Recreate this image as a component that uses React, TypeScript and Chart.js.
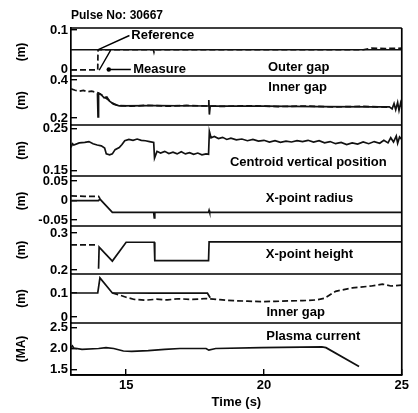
import React, { useEffect, useRef } from 'react';
import { Chart, registerables } from 'chart.js';

Chart.register(...registerables);

const FONT = "'Liberation Sans', Arial, Helvetica, sans-serif";

// ---------- x axis ----------
const timeMin = 13;
const timeMax = 25;
const timeTicks = [15, 20, 25];

// ---------- data: [time (s), value] ----------
// Panel 1 - Outer gap (m)
const outerGapRef = [[13, 0.05], [16.0, 0.05], [20.0, 0.05], [25, 0.05]];
const outerGapMeas = [[13, -0.001], [13.97, -0.001], [13.98, 0.05], [15.99, 0.05], [16.01, 0.044], [16.03, 0.05], [23.6, 0.05], [23.9, 0.054], [24.4, 0.053], [25, 0.054]];

// Panel 2 - Inner gap (m)
const innerGapRef = [[13.96, 0.33], [13.98, 0.205], [14.0, 0.33], [14.1, 0.322], [14.2, 0.306], [14.3, 0.31], [14.4, 0.288], [14.55, 0.272], [14.75, 0.264], [16, 0.265], [17.98, 0.263], [18.0, 0.295], [18.02, 0.218], [18.05, 0.263], [20, 0.262], [22, 0.26], [24, 0.258], [24.55, 0.259], [24.65, 0.248], [24.72, 0.276], [24.78, 0.244], [24.85, 0.282], [24.9, 0.24], [24.96, 0.28], [25, 0.258]];
const innerGapMeas = [[13, 0.353], [13.15, 0.346], [13.3, 0.341], [13.45, 0.345], [13.6, 0.338], [13.75, 0.341], [13.9, 0.336], [14.05, 0.328], [14.2, 0.312], [14.35, 0.296], [14.5, 0.278], [14.7, 0.266], [15.2, 0.262], [15.8, 0.267], [16.5, 0.262], [17.2, 0.266], [18.5, 0.261], [19.5, 0.264], [20.5, 0.26], [21.5, 0.263], [22.5, 0.258], [23.5, 0.261], [24.5, 0.257]];

// Panel 3 - Centroid vertical position (m)
const centroid = [[13.0, 0.205], [13.05, 0.214], [13.1, 0.211], [13.3, 0.216], [13.5, 0.217], [13.65, 0.219], [13.8, 0.214], [13.95, 0.211], [14.1, 0.209], [14.22, 0.204], [14.28, 0.19], [14.4, 0.188], [14.5, 0.19], [14.6, 0.2], [14.75, 0.205], [14.85, 0.212], [14.95, 0.221], [15.1, 0.224], [15.25, 0.222], [15.4, 0.225], [15.55, 0.222], [15.7, 0.221], [15.85, 0.219], [16.0, 0.217], [16.03, 0.18], [16.12, 0.196], [16.25, 0.192], [16.4, 0.196], [16.55, 0.191], [16.7, 0.194], [16.85, 0.19], [17.0, 0.195], [17.15, 0.19], [17.3, 0.193], [17.45, 0.189], [17.6, 0.192], [17.75, 0.188], [17.9, 0.19], [17.99, 0.189], [18.02, 0.243], [18.08, 0.228], [18.2, 0.231], [18.35, 0.226], [18.5, 0.229], [18.65, 0.224], [18.8, 0.227], [19.0, 0.223], [19.2, 0.225], [19.4, 0.221], [19.6, 0.224], [19.8, 0.22], [20.0, 0.222], [20.2, 0.218], [20.4, 0.221], [20.6, 0.217], [20.8, 0.22], [21.0, 0.218], [21.2, 0.221], [21.4, 0.219], [21.6, 0.222], [21.8, 0.218], [22.0, 0.221], [22.2, 0.216], [22.4, 0.219], [22.6, 0.214], [22.8, 0.217], [23.0, 0.212], [23.2, 0.216], [23.4, 0.213], [23.6, 0.218], [23.8, 0.214], [24.0, 0.219], [24.2, 0.215], [24.35, 0.222], [24.5, 0.216], [24.6, 0.228], [24.7, 0.218], [24.8, 0.232], [24.85, 0.215], [24.92, 0.23], [25.0, 0.224]];

// Panel 4 - X-point radius (m)
const xRadiusRef = [[13, 0], [14.0, 0], [14.05, 0.004], [14.5, -0.03], [16.0, -0.03], [16.02, -0.044], [16.04, -0.03], [17.99, -0.03], [18.01, -0.025], [18.03, -0.03], [25, -0.03]];
const xRadiusMeas = [[13, 0.012], [13.5, 0.011], [14.0, 0.011], [14.05, 0.005]];

// Panel 5 - X-point height (m)
const xHeightRef = [[14.0, 0.203], [14.02, 0.262], [14.5, 0.224], [15.0, 0.275], [16.02, 0.275], [16.04, 0.225], [17.99, 0.225], [18.01, 0.276], [25, 0.276]];
const xHeightMeas = [[13, 0.268], [13.97, 0.268]];

// Panel 6 - Inner gap (m), lower
const lowerGapRef = [[13, 0.1], [13.97, 0.1], [14.05, 0.163], [14.5, 0.1], [16, 0.099], [17.95, 0.099], [18.05, 0.08]];
const lowerGapMeas = [[14.5, 0.1], [14.75, 0.092], [15.0, 0.082], [15.3, 0.073], [15.7, 0.07], [16.1, 0.074], [16.5, 0.071], [16.9, 0.076], [17.4, 0.073], [17.9, 0.077], [18.4, 0.072], [18.9, 0.068], [19.4, 0.066], [19.9, 0.064], [20.4, 0.065], [20.9, 0.067], [21.4, 0.068], [21.9, 0.071], [22.2, 0.078], [22.6, 0.107], [23.2, 0.121], [23.9, 0.129], [24.3, 0.137], [24.6, 0.129], [25, 0.133]];

// Panel 7 - Plasma current (MA)
const plasmaCurrent = [[13, 2.02], [13.05, 2.06], [13.1, 2.01], [13.4, 1.98], [14.0, 2.0], [14.27, 2.02], [14.55, 2.0], [14.9, 1.94], [15.2, 1.93], [15.8, 1.95], [16.4, 1.98], [16.95, 2.0], [17.9, 2.0], [18.0, 1.96], [18.25, 2.0], [19.9, 2.02], [22.1, 2.04], [22.25, 2.02], [23.45, 1.57]];

// ---------- panels (top to bottom) ----------
const panelIds = ['p1', 'p2', 'p3', 'p4', 'p5', 'p6', 'p7'];
const panelNames = ['Outer gap', 'Inner gap', 'Centroid vertical position', 'X-point radius', 'X-point height', 'Inner gap', 'Plasma current'];
const panelUnits = ['(m)', '(m)', '(m)', '(m)', '(m)', '(m)', '(MA)'];
const panelMin = [-0.0165, 0.163, 0.138, -0.065, 0.189, -0.025, 1.369];
const panelMax = [0.105, 0.421, 0.258, 0.063, 0.319, 0.179, 2.607];
const panelTickValues = [[0, 0.1], [0.2, 0.4], [0.15, 0.25], [-0.05, 0, 0.05], [0.2, 0.3], [0, 0.1], [1.5, 2.0, 2.5]];
const panelTickLabels = [['0', '0.1'], ['0.2', '0.4'], ['0.15', '0.25'], ['-0.05', '0', '0.05'], ['0.2', '0.3'], ['0', '0.1'], ['1.5', '2.0', '2.5']];
const panelHeights = [48, 49, 51, 50, 48, 49, 52];

// label anchors in data coordinates (time, value)
const panelLabelTime = [21.26, 21.22, 21.61, 21.65, 21.65, 21.15, 21.79];
const panelLabelValue = [0.006, 0.363, 0.169, 0.005, 0.241, 0.021, 2.286];

const seriesList = [
  { pts: outerGapRef, panel: 'p1', dashed: false },
  { pts: outerGapMeas, panel: 'p1', dashed: true },
  { pts: innerGapRef, panel: 'p2', dashed: false },
  { pts: innerGapMeas, panel: 'p2', dashed: true },
  { pts: centroid, panel: 'p3', dashed: false },
  { pts: xRadiusRef, panel: 'p4', dashed: false },
  { pts: xRadiusMeas, panel: 'p4', dashed: true },
  { pts: xHeightRef, panel: 'p5', dashed: false },
  { pts: xHeightMeas, panel: 'p5', dashed: true },
  { pts: lowerGapRef, panel: 'p6', dashed: false },
  { pts: lowerGapMeas, panel: 'p6', dashed: true },
  { pts: plasmaCurrent, panel: 'p7', dashed: false },
];

const framePlugin = {
  id: 'frameAndLabels',
  afterDatasetsDraw(chart: any) {
    const { ctx, chartArea } = chart;
    const xs = chart.scales.x;
    ctx.save();
    ctx.strokeStyle = '#000';
    ctx.lineWidth = 1.7;
    ctx.setLineDash([]);
    ctx.beginPath();
    panelIds.forEach((id) => {
      const s = chart.scales[id];
      ctx.moveTo(chartArea.left, s.top);
      ctx.lineTo(chartArea.right, s.top);
    });
    ctx.moveTo(chartArea.left, chartArea.bottom);
    ctx.lineTo(chartArea.right, chartArea.bottom);
    ctx.moveTo(chartArea.right, chartArea.top);
    ctx.lineTo(chartArea.right, chartArea.bottom);
    ctx.stroke();

    ctx.fillStyle = '#000';
    ctx.font = `bold 13px ${FONT}`;
    ctx.textBaseline = 'middle';
    ctx.textAlign = 'center';
    panelNames.forEach((name, i) => {
      const s = chart.scales[panelIds[i]];
      ctx.fillText(name, xs.getPixelForValue(panelLabelTime[i]), s.getPixelForValue(panelLabelValue[i]));
    });

    // Reference / Measure pointers in panel 1
    const p1 = chart.scales.p1;
    const X = (t: number) => xs.getPixelForValue(t);
    const Y = (v: number) => p1.getPixelForValue(v);
    ctx.textAlign = 'left';
    ctx.fillText('Reference', X(15.19), Y(0.085));
    ctx.fillText('Measure', X(15.26), Y(0.001));
    ctx.lineWidth = 1.4;
    ctx.beginPath();
    ctx.moveTo(X(15.12), Y(0.086));
    ctx.lineTo(X(13.99), Y(0.05));
    ctx.moveTo(X(15.17), Y(0.0));
    ctx.lineTo(X(14.37), Y(0.0));
    ctx.moveTo(X(14.44), Y(0.049));
    ctx.lineTo(X(14.02), Y(-0.002));
    ctx.stroke();
    ctx.beginPath();
    ctx.arc(X(14.37), Y(0.0), 2.2, 0, Math.PI * 2);
    ctx.fill();
    ctx.restore();
  },
};

export default function App() {
  const ref = useRef<HTMLCanvasElement>(null);
  useEffect(() => {
    const datasets = seriesList.map((s) => ({
      data: s.pts.map(([x, y]) => ({ x, y })),
      yAxisID: s.panel,
      borderColor: '#111',
      borderWidth: 1.7,
      borderDash: s.dashed ? [6, 3] : [],
      pointRadius: 0,
      tension: 0,
      fill: false,
    }));

    const scales: any = {
      x: {
        type: 'linear',
        position: 'bottom',
        min: timeMin,
        max: timeMax,
        afterBuildTicks: (sc: any) => {
          sc.ticks = timeTicks.map((v) => ({ value: v }));
        },
        afterFit: (sc: any) => {
          sc.height = 38;
        },
        ticks: {
          autoSkip: false,
          maxRotation: 0,
          padding: 9,
          color: '#000',
          font: { family: FONT, size: 13, weight: 'bold' },
          callback: (v: any) => String(v),
        },
        grid: { drawOnChartArea: false, tickLength: -6, color: '#000', lineWidth: 1.4 },
        border: { display: true, color: '#000', width: 1.7 },
        title: { display: true, text: 'Time (s)', color: '#000', font: { family: FONT, size: 13, weight: 'bold' }, padding: { top: 0, bottom: 3 } },
      },
    };

    panelIds.forEach((id, i) => {
      scales[id] = {
        type: 'linear',
        position: 'left',
        stack: 'panels',
        stackWeight: panelHeights[i],
        weight: panelIds.length - i,
        min: panelMin[i],
        max: panelMax[i],
        afterBuildTicks: (sc: any) => {
          sc.ticks = panelTickValues[i].map((v) => ({ value: v }));
        },
        afterFit: (sc: any) => {
          sc.width = 71;
        },
        ticks: {
          autoSkip: false,
          padding: 9,
          color: '#000',
          font: { family: FONT, size: 13, weight: 'bold' },
          callback: (v: any) => {
            const k = panelTickValues[i].findIndex((t) => Math.abs(t - v) < 1e-9);
            return k >= 0 ? panelTickLabels[i][k] : '';
          },
        },
        grid: { drawOnChartArea: false, tickLength: -6, color: '#000', lineWidth: 1.4 },
        border: { display: true, color: '#000', width: 1.7 },
        title: { display: true, text: panelUnits[i], color: '#000', font: { family: FONT, size: 12, weight: 'bold' }, padding: { top: 14, bottom: 0 } },
      };
    });

    const chart = new Chart(ref.current as HTMLCanvasElement, {
      type: 'line',
      data: { datasets } as any,
      options: {
        responsive: false,
        animation: false,
        devicePixelRatio: 1,
        layout: { padding: { right: 6 } },
        scales,
        plugins: {
          legend: { display: false },
          tooltip: { enabled: false },
          title: {
            display: true,
            text: 'Pulse No: 30667',
            align: 'start',
            fullSize: false,
            color: '#000',
            font: { family: FONT, size: 12, weight: 'bold' },
            padding: { top: 8, bottom: 5.6 },
          },
        },
      } as any,
      plugins: [framePlugin],
    });
    return () => chart.destroy();
  }, []);

  return (
    <div style={{ position: 'absolute', left: 0, top: 0, width: 418, height: 413, background: '#fff' }}>
      <canvas ref={ref} width={418} height={413} style={{ display: 'block' }} />
    </div>
  );
}
